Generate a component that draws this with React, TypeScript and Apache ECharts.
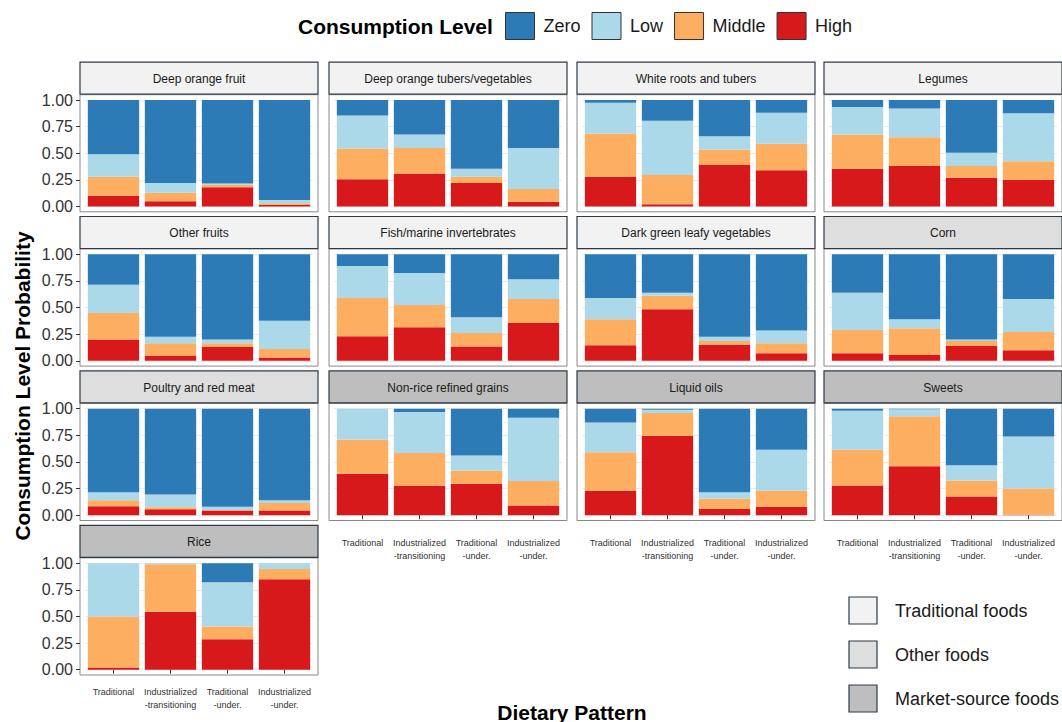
import React, { useEffect, useRef } from 'react';
import * as echarts from 'echarts';

const FONT = '"Liberation Sans", Arial, Helvetica, sans-serif';

const CATEGORIES = ['Traditional', 'Industrialized\n-transitioning', 'Traditional\n-under.', 'Industrialized\n-under.'];

const PANELS = [
  'Deep orange fruit', 'Deep orange tubers/vegetables', 'White roots and tubers', 'Legumes',
  'Other fruits', 'Fish/marine invertebrates', 'Dark green leafy vegetables', 'Corn',
  'Poultry and red meat', 'Non-rice refined grains', 'Liquid oils', 'Sweets',
  'Rice',
];

const FOOD_GROUPS = ['Traditional foods', 'Other foods', 'Market-source foods'];
const PANEL_GROUP = [0, 0, 0, 0, 0, 0, 0, 1, 1, 2, 2, 2, 2];

const LEVELS = ['High', 'Middle', 'Low', 'Zero'];
const LEGEND_ORDER = ['Zero', 'Low', 'Middle', 'High'];

const HIGH = [
  [0.10, 0.05, 0.18, 0.015],
  [0.255, 0.31, 0.22, 0.045],
  [0.28, 0.02, 0.39, 0.34],
  [0.355, 0.38, 0.27, 0.25],
  [0.20, 0.05, 0.13, 0.03],
  [0.23, 0.315, 0.135, 0.355],
  [0.145, 0.485, 0.15, 0.07],
  [0.07, 0.055, 0.14, 0.10],
  [0.085, 0.055, 0.045, 0.045],
  [0.39, 0.275, 0.295, 0.09],
  [0.23, 0.745, 0.06, 0.08],
  [0.28, 0.46, 0.175, 0.005],
  [0.02, 0.545, 0.285, 0.85],
];
const MIDDLE = [
  [0.18, 0.08, 0.025, 0.015],
  [0.29, 0.24, 0.06, 0.12],
  [0.405, 0.275, 0.145, 0.25],
  [0.32, 0.27, 0.11, 0.175],
  [0.25, 0.115, 0.035, 0.08],
  [0.36, 0.21, 0.125, 0.225],
  [0.245, 0.125, 0.035, 0.095],
  [0.22, 0.25, 0.045, 0.17],
  [0.055, 0.02, 0.005, 0.07],
  [0.32, 0.31, 0.125, 0.23],
  [0.36, 0.215, 0.095, 0.15],
  [0.335, 0.47, 0.15, 0.245],
  [0.48, 0.445, 0.12, 0.095],
];
const LOW = [
  [0.21, 0.09, 0.01, 0.03],
  [0.31, 0.125, 0.075, 0.385],
  [0.29, 0.51, 0.125, 0.29],
  [0.26, 0.27, 0.125, 0.45],
  [0.265, 0.06, 0.035, 0.265],
  [0.30, 0.30, 0.15, 0.185],
  [0.20, 0.03, 0.04, 0.12],
  [0.35, 0.085, 0.015, 0.31],
  [0.075, 0.12, 0.03, 0.025],
  [0.29, 0.385, 0.14, 0.595],
  [0.28, 0.03, 0.06, 0.385],
  [0.365, 0.065, 0.145, 0.49],
  [0.50, 0.01, 0.415, 0.055],
];
const ZERO = [
  [0.51, 0.78, 0.785, 0.94],
  [0.145, 0.325, 0.645, 0.45],
  [0.025, 0.195, 0.34, 0.12],
  [0.065, 0.08, 0.495, 0.125],
  [0.285, 0.775, 0.80, 0.625],
  [0.11, 0.175, 0.59, 0.235],
  [0.41, 0.36, 0.775, 0.715],
  [0.36, 0.61, 0.80, 0.42],
  [0.785, 0.805, 0.92, 0.86],
  [0, 0.03, 0.44, 0.085],
  [0.13, 0.01, 0.785, 0.385],
  [0.02, 0.005, 0.53, 0.26],
  [0, 0, 0.18, 0],
];

const LEVEL_DATA: Record<string, number[][]> = { High: HIGH, Middle: MIDDLE, Low: LOW, Zero: ZERO };
const LEVEL_COLOR: Record<string, string> = { Zero: '#2c7bb6', Low: '#abd9e9', Middle: '#fdae61', High: '#d7191c' };
const GROUP_FILL = ['#f2f2f2', '#dedede', '#bebebe'];

// layout
const COL_LEFT = [80, 329, 577, 824];
const PANEL_W = 238;
const X_EXP = 5;
const ROW_Y1 = [100, 254.3, 408.7, 563.2];
const PLOT_H = 106.5;
const Y_EXP = 5.3;
const STRIP_H = 32.5;
const STRIP_STROKE = '#2e3a46';

export default function App() {
  const ref = useRef<HTMLDivElement>(null);
  useEffect(() => {
    const chart = echarts.init(ref.current!, null, { renderer: 'svg' });
    const grids: any[] = [];
    const xAxes: any[] = [];
    const yAxes: any[] = [];
    const series: any[] = [];
    const graphics: any[] = [];

    PANELS.forEach((name, i) => {
      const row = Math.floor(i / 4);
      const col = i % 4;
      const left = COL_LEFT[col];
      const y1 = ROW_Y1[row];
      const showX = i >= 9;
      const showY = col === 0;
      grids.push({ left: left + X_EXP, top: y1, width: PANEL_W - 2 * X_EXP, height: PLOT_H });
      xAxes.push({
        type: 'category', gridIndex: i, data: CATEGORIES, offset: Y_EXP,
        axisLine: { show: false },
        axisTick: { show: showX, alignWithLabel: true, length: 4, lineStyle: { color: '#333', width: 1 } },
        axisLabel: { show: showX, fontSize: 9, lineHeight: 13, color: '#333', margin: row === 3 ? 10.5 : 16, fontFamily: FONT, interval: 0 },
        splitLine: { show: false },
      });
      yAxes.push({
        type: 'value', gridIndex: i, min: 0, max: 1, interval: 0.25, offset: X_EXP,
        axisLine: { show: false },
        axisTick: { show: showY, length: 4, lineStyle: { color: '#333', width: 1 } },
        axisLabel: { show: showY, fontSize: 16, color: '#333', margin: 7, fontFamily: FONT, formatter: (v: number) => v.toFixed(2) },
        splitLine: { show: true, lineStyle: { color: '#ebebeb', width: 1 } },
        minorTick: { show: false, splitNumber: 2 },
        minorSplitLine: { show: true, lineStyle: { color: '#f4f4f4', width: 0.6 } },
      });
      LEVELS.forEach((lv) => {
        series.push({
          type: 'bar', name: lv, stack: 'p' + i, xAxisIndex: i, yAxisIndex: i,
          barWidth: '90%', data: LEVEL_DATA[lv][i],
          itemStyle: { color: LEVEL_COLOR[lv] },
          emphasis: { disabled: true },
        });
      });
      graphics.push({
        type: 'rect', silent: true,
        shape: { x: left, y: y1 - Y_EXP, width: PANEL_W, height: PLOT_H + 2 * Y_EXP },
        style: { fill: 'none', stroke: '#8a8a8a', lineWidth: 1 },
      });
      graphics.push({
        type: 'rect', silent: true,
        shape: { x: left, y: y1 - Y_EXP - STRIP_H, width: PANEL_W, height: STRIP_H - 0.5 },
        style: { fill: GROUP_FILL[PANEL_GROUP[i]], stroke: STRIP_STROKE, lineWidth: 1.2 },
      });
      graphics.push({
        type: 'text', silent: true, x: left + PANEL_W / 2, y: y1 - Y_EXP - STRIP_H / 2 + 0.5,
        style: { text: name, align: 'center', verticalAlign: 'middle', fontSize: 12, fill: '#1a1a1a', fontFamily: FONT },
      });
    });

    // titles
    graphics.push({
      type: 'text', silent: true, x: 298, y: 26,
      style: { text: 'Consumption Level', align: 'left', verticalAlign: 'middle', fontSize: 21, fontWeight: 'bold', fill: '#000', fontFamily: FONT },
    });
    graphics.push({
      type: 'text', silent: true, x: 22, y: 386, rotation: Math.PI / 2,
      style: { text: 'Consumption Level Probability', align: 'center', verticalAlign: 'middle', fontSize: 21, fontWeight: 'bold', fill: '#000', fontFamily: FONT },
    });
    graphics.push({
      type: 'text', silent: true, x: 572, y: 712,
      style: { text: 'Dietary Pattern', align: 'center', verticalAlign: 'middle', fontSize: 21, fontWeight: 'bold', fill: '#000', fontFamily: FONT },
    });
    // food group key
    FOOD_GROUPS.forEach((g, k) => {
      const y = 597 + k * 44;
      graphics.push({
        type: 'rect', silent: true,
        shape: { x: 849, y, width: 28, height: 27 },
        style: { fill: GROUP_FILL[k], stroke: STRIP_STROKE, lineWidth: 1.2 },
      });
      graphics.push({
        type: 'text', silent: true, x: 895, y: y + 13.5,
        style: { text: g, align: 'left', verticalAlign: 'middle', fontSize: 18, fill: '#1a1a1a', fontFamily: FONT },
      });
    });

    const option: any = {
      animation: false,
      backgroundColor: '#ffffff',
      textStyle: { fontFamily: FONT },
      legend: {
        data: LEGEND_ORDER, left: 505, top: 12, padding: 0, orient: 'horizontal',
        itemWidth: 29, itemHeight: 27, itemGap: 11, icon: 'rect',
        itemStyle: { borderColor: '#333', borderWidth: 1 },
        textStyle: { fontSize: 18, color: '#1a1a1a', fontFamily: FONT, padding: [0, 0, 0, 4] },
        selectedMode: false,
      },
      grid: grids,
      xAxis: xAxes,
      yAxis: yAxes,
      series,
      graphic: graphics,
    };
    chart.setOption(option);
    return () => chart.dispose();
  }, []);
  return <div ref={ref} style={{ position: 'absolute', left: 0, top: 0, width: 1062, height: 722 }} />;
}
